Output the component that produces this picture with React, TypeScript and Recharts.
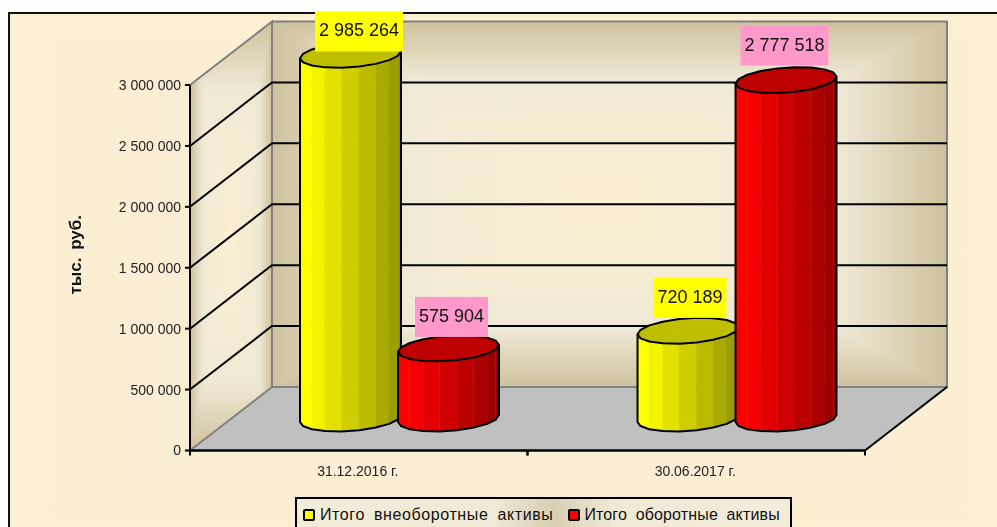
import React from "react";
import { BarChart, Bar, XAxis, YAxis, CartesianGrid, Legend, LabelList, Label } from "recharts";

const categories = ["31.12.2016 г.", "30.06.2017 г."];
const nonCurrentAssets = [2985264, 720189];
const currentAssets = [575904, 2777518];
const yTicks = [0, 500000, 1000000, 1500000, 2000000, 2500000, 3000000];
const seriesNames = ["Итого внеоборотные активы", "Итого оборотные активы"];

const rows = categories.map((date, i) => ({
  date,
  nonCurrent: nonCurrentAssets[i],
  current: currentAssets[i],
}));

// front plane of the fake 3D box, and how far the back wall is shifted from it
const PLOT = { left: 190, right: 865, top: 85, bottom: 450.5 };
const DEPTH_X = 82;
const DEPTH_Y = -63.5;
// cylinders stand in the middle of the floor
const STAND_X = 40.5;
const STAND_Y = -32;
const FONT = "'Liberation Sans', Arial, sans-serif";

const fmt = (v: number) => String(v).replace(/\B(?=(\d{3})+$)/g, " ");

function scaleRgb(rgb: number[], k: number) {
  return `rgb(${rgb.map((c) => Math.round(c * k)).join(",")})`;
}

function Cylinder(props: any) {
  const { x, y, width, height, rgb } = props;
  const cx = x + width / 2 + STAND_X;
  const topY = y + STAND_Y;
  const baseY = y + height + STAND_Y;
  const A = width * 0.515;
  const B = 12.5;
  const C = -3.5;
  const N = 18;
  const pt = (t: number, cy: number): [number, number] => [
    cx + A * Math.cos(t),
    cy + B * Math.sin(t) + C * Math.cos(t),
  ];
  const ring: string[] = [];
  for (let i = 0; i < N; i++) {
    ring.push(pt((i / N) * 2 * Math.PI, topY).join(","));
  }
  const halfN = N / 2;
  const facets = [];
  const outline: string[] = [];
  for (let i = 0; i < halfN; i++) {
    const t0 = Math.PI - (i / halfN) * Math.PI;
    const t1 = Math.PI - ((i + 1) / halfN) * Math.PI;
    const a = pt(t0, topY);
    const b = pt(t1, topY);
    const c = pt(t1, baseY);
    const d = pt(t0, baseY);
    const f = ((a[0] + b[0]) / 2 - (cx - A)) / (2 * A);
    const color = scaleRgb(rgb, 1 - 0.42 * Math.max(0, (f - 0.08) / 0.92));
    facets.push(
      <polygon
        key={i}
        points={[a, b, c, d].map((p) => p.join(",")).join(" ")}
        fill={color}
        stroke={color}
        strokeWidth={0.6}
      />
    );
    if (i % 2 === 1) {
      facets.push(
        <line key={`l${i}`} x1={b[0]} y1={b[1]} x2={c[0]} y2={c[1]} stroke="#fff" strokeOpacity={0.25} strokeWidth={0.8} />
      );
    }
  }
  for (let i = 0; i <= halfN; i++) {
    outline.push(pt(Math.PI - (i / halfN) * Math.PI, baseY).join(","));
  }
  const leftTop = pt(Math.PI, topY);
  const rightTop = pt(0, topY);
  return (
    <g>
      {facets}
      <polyline
        points={[leftTop.join(","), ...outline, rightTop.join(",")].join(" ")}
        fill="none"
        stroke="#000"
        strokeWidth={2}
        strokeLinejoin="round"
      />
      <polygon points={ring.join(" ")} fill={scaleRgb(rgb, 0.75)} stroke="#000" strokeWidth={2} strokeLinejoin="round" />
    </g>
  );
}

// labels were dragged by hand in the original, so each one has its own nudge
const labelNudge: Record<string, [number, number][]> = {
  nonCurrent: [[8.5, -3.3], [2, -12.9]],
  current: [[3, -11.4], [-1.5, -14.6]],
};

function ValueLabel(props: any) {
  const { x, y, width, value, index, series, bg } = props;
  const [dx, dy] = labelNudge[series][index];
  const w = value >= 1000000 ? 88 : 73;
  const h = 40;
  const cx = x + width / 2 + STAND_X + dx;
  const bottom = y + STAND_Y + dy;
  return (
    <g>
      <rect x={cx - w / 2} y={bottom - h} width={w} height={h} fill={bg} />
      <text x={cx} y={bottom - 15} textAnchor="middle" fontFamily={FONT} fontSize={18} fill="#111">
        {fmt(value)}
      </text>
    </g>
  );
}

function Walls() {
  const { left, right, top, bottom } = PLOT;
  const backL = left + DEPTH_X;
  const backR = right + DEPTH_X;
  const backT = top + DEPTH_Y;
  const backB = bottom + DEPTH_Y;
  const wallStops = (
    <>
      <stop offset="0" stopColor="#cfc19e" />
      <stop offset="0.16" stopColor="#efe9d5" />
      <stop offset="0.5" stopColor="#fdefd3" />
      <stop offset="0.84" stopColor="#efe9d5" />
      <stop offset="1" stopColor="#cfc19e" />
    </>
  );
  const sidePts = `${left},${top} ${backL},${backT} ${backL},${backB} ${left},${bottom}`;
  return (
    <g>
      <defs>
        <linearGradient id="wallH" x1="0" y1="0" x2="1" y2="0">{wallStops}</linearGradient>
        <linearGradient id="wallV" x1="0" y1="0" x2="0" y2="1">{wallStops}</linearGradient>
      </defs>
      <polygon points={sidePts} fill="url(#wallH)" />
      <polygon points={sidePts} fill="url(#wallV)" style={{ mixBlendMode: "darken" }} />
      <rect x={backL} y={backT} width={backR - backL} height={backB - backT} fill="url(#wallH)" />
      <rect x={backL} y={backT} width={backR - backL} height={backB - backT} fill="url(#wallV)" style={{ mixBlendMode: "darken" }} />
      <polygon points={`${left},${bottom} ${backL},${backB} ${backR},${backB} ${right},${bottom}`} fill="#c0c0c0" />
      <polyline points={`${left},${bottom} ${backL},${backB} ${backL},${backT} ${left},${top}`} fill="none" stroke="#808080" strokeWidth={2} />
      <polyline points={`${backL},${backT} ${backR},${backT} ${backR},${backB} ${backL},${backB}`} fill="none" stroke="#808080" strokeWidth={2} />
      <line x1={right} y1={bottom} x2={backR} y2={backB} stroke="#000" strokeWidth={2} />
    </g>
  );
}

function GridLine(props: any) {
  const { x1, x2, y1 } = props;
  if (y1 <= PLOT.top + 1 || y1 >= PLOT.bottom - 1) return <g />;
  const by = y1 + DEPTH_Y;
  return (
    <polyline
      points={`${x1},${y1} ${x1 + DEPTH_X},${by} ${x2 + DEPTH_X},${by}`}
      fill="none"
      stroke="#000"
      strokeWidth={2}
    />
  );
}

function CategoryTick(props: any) {
  const { x, payload } = props;
  const half = (PLOT.right - PLOT.left) / categories.length / 2;
  const y = PLOT.bottom;
  return (
    <g>
      <line x1={x - half} y1={y} x2={x - half} y2={y + 5} stroke="#000" strokeWidth={2} />
      <line x1={x + half} y1={y} x2={x + half} y2={y + 5} stroke="#000" strokeWidth={2} />
      <text x={x - 1} y={y + 25} textAnchor="middle" fontFamily={FONT} fontSize={14} fill="#222">
        {payload.value}
      </text>
    </g>
  );
}

function LegendBox() {
  const swatch = (color: string) => (
    <span
      style={{
        display: "inline-block",
        width: 8,
        height: 8,
        background: color,
        border: "2px solid #000",
        borderRadius: 2,
        margin: "0 4px 0 0",
      }}
    />
  );
  return (
    <div
      style={{
        boxSizing: "border-box",
        width: 497,
        height: 36,
        border: "2px solid #000",
        paddingLeft: 6,
        fontFamily: FONT,
        fontSize: 16,
        color: "#111",
        whiteSpace: "nowrap",
        wordSpacing: 4,
        letterSpacing: 0.15,
        display: "flex",
        alignItems: "center",
        background:
          "linear-gradient(90deg,#f3ecd8 0%,#efe9d5 40%,#d8cfb2 52%,#efe9d5 64%,#f3ecd8 100%)",
      }}
    >
      {swatch("#ffff00")}
      <span style={{ marginRight: 15, marginLeft: 1, letterSpacing: 0.6 }}>{seriesNames[0]}</span>
      {swatch("#ff0000")}
      <span>{seriesNames[1]}</span>
    </div>
  );
}

export default function App() {
  return (
    <div
      style={{
        position: "absolute",
        left: 0,
        top: 0,
        width: 997,
        height: 527,
        overflow: "hidden",
        background: "#fff",
      }}
    >
      <div
        style={{
          position: "absolute",
          left: 8,
          top: 12,
          width: 1000,
          height: 530,
          border: "2px solid #111",
          background:
            "linear-gradient(90deg,#fdefd3 0%,#f3ead3 50%,#fdefd3 100%), linear-gradient(180deg,#fdefd3 0%,#f3ead3 50%,#fdefd3 100%)",
          backgroundBlendMode: "lighten",
        }}
      />
      <BarChart
        width={997}
        height={527}
        data={rows}
        barSize={98}
        barGap={0}
        margin={{ top: PLOT.top, right: 997 - PLOT.right, left: 0, bottom: 0 }}
        style={{ position: "absolute", left: 0, top: 0 }}
      >
        <Walls />
        <CartesianGrid
          zIndex={100}
          horizontal={(p: any) => <GridLine key={p.key ?? p.y1} {...p} />}
          vertical={false}
        />
        <XAxis
          dataKey="date"
          height={46.5}
          interval={0}
          tick={<CategoryTick />}
          tickLine={false}
          axisLine={{ stroke: "#000", strokeWidth: 2.5 }}
        />
        <YAxis
          width={PLOT.left}
          domain={[0, 3000000]}
          ticks={yTicks}
          interval={0}
          tickFormatter={fmt}
          tickSize={5}
          tickMargin={4}
          tick={{ fontFamily: FONT, fontSize: 14, fill: "#222" }}
          tickLine={{ stroke: "#000", strokeWidth: 2 }}
          axisLine={{ stroke: "#000", strokeWidth: 2 }}
        >
          <Label
            value="тыс. руб."
            angle={-90}
            position="insideLeft"
            offset={75}
            dy={-13}
            style={{ fontFamily: FONT, fontSize: 17, fontWeight: "bold", fill: "#111", textAnchor: "middle", wordSpacing: 3 }}
          />
        </YAxis>
        <Legend
          content={<LegendBox />}
          height={30}
          wrapperStyle={{ position: "absolute", left: 295, top: 497, width: 497, height: 30, bottom: "auto" }}
        />
        <Bar
          dataKey="nonCurrent"
          name={seriesNames[0]}
          fill="#ffff00"
          isAnimationActive={false}
          shape={(p: any) => <Cylinder {...p} rgb={[255, 255, 0]} />}
        >
          <LabelList dataKey="nonCurrent" content={(p: any) => <ValueLabel {...p} series="nonCurrent" bg="#ffff00" />} />
        </Bar>
        <Bar
          dataKey="current"
          name={seriesNames[1]}
          fill="#ff0000"
          isAnimationActive={false}
          shape={(p: any) => <Cylinder {...p} rgb={[255, 0, 0]} />}
        >
          <LabelList dataKey="current" content={(p: any) => <ValueLabel {...p} series="current" bg="#ff99cc" />} />
        </Bar>
      </BarChart>
    </div>
  );
}
